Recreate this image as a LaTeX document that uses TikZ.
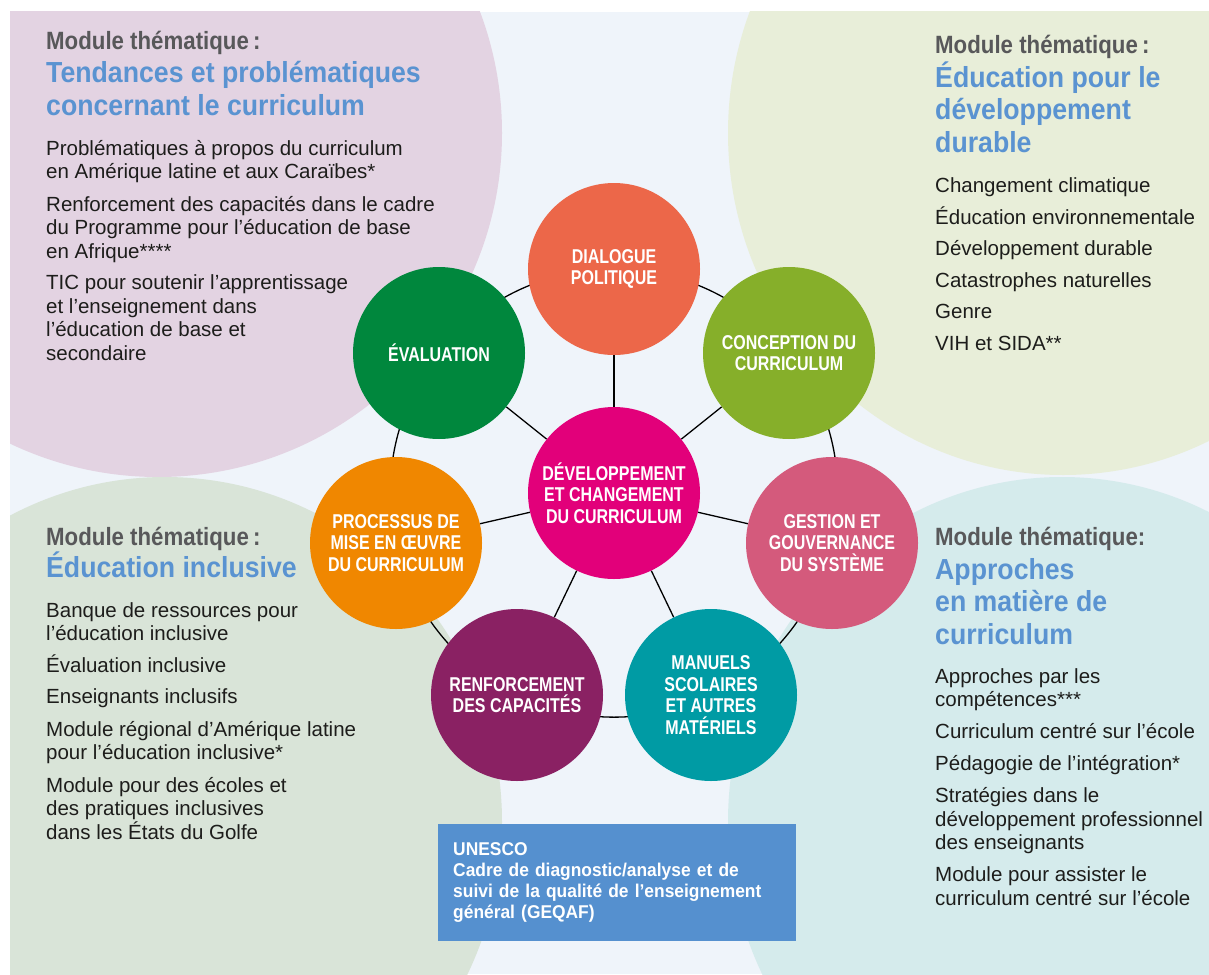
\documentclass[tikz,border=0pt]{standalone}
\usepackage{fontspec}
\setmainfont{Liberation Sans}
\newfontfamily\hdfont[FakeStretch=0.89]{Liberation Sans}
\newfontfamily\titlefont[FakeStretch=0.92]{Liberation Sans}
\newfontfamily\circfont[FakeStretch=0.8]{Liberation Sans}
\newfontfamily\boxfont[FakeStretch=0.94]{Liberation Sans}
\definecolor{bgblue}{HTML}{EFF4FA}
\definecolor{tlc}{HTML}{E3D3E2}
\definecolor{trc}{HTML}{E8EED9}
\definecolor{blc}{HTML}{D9E4D8}
\definecolor{brc}{HTML}{D5EBEC}
\definecolor{hdgrey}{HTML}{58585A}
\definecolor{ttlblue}{HTML}{5A93D1}
\definecolor{bodytext}{HTML}{1D1D1B}
\definecolor{cdlg}{HTML}{EC6749}
\definecolor{ccon}{HTML}{86AF2A}
\definecolor{cges}{HTML}{D45A7C}
\definecolor{cman}{HTML}{009BA4}
\definecolor{cren}{HTML}{8A2163}
\definecolor{cpro}{HTML}{F08700}
\definecolor{ceva}{HTML}{00873D}
\definecolor{cctr}{HTML}{E2007A}
\definecolor{cbox}{HTML}{5590CF}
\pgfdeclarelayer{bg}
\pgfdeclarelayer{lines}
\pgfsetlayers{bg,lines,main}
\begin{document}
\begin{tikzpicture}[x=1pt,y=-1pt,
  hdr/.style={font=\hdfont\bfseries\fontsize{25}{28}\selectfont, text=hdgrey, anchor=base west, inner sep=0pt},
  ttl/.style={font=\titlefont\bfseries\fontsize{29}{32.5}\selectfont, text=ttlblue, align=left, anchor=base west, inner sep=0pt},
  body/.style={font=\fontsize{20.5}{23.5}\selectfont, text=bodytext, align=left, anchor=base west, inner sep=0pt},
  sat/.style={circle, minimum size=172pt, inner sep=0pt, text=white, align=center,
    font=\circfont\bfseries\fontsize{20}{21.5}\selectfont},
  conn/.style={draw=black, line width=1.3pt},
  ring/.style={conn, bend left=25.7, looseness=0.9},
  ubox/.style={fill=cbox, text=white, align=left, text width=328pt, inner xsep=15pt,
    minimum height=117pt, font=\boxfont\bfseries\fontsize{18.5}{21}\selectfont, anchor=north west}
]
\useasboundingbox (0,0) rectangle (1209,974);
\begin{pgfonlayer}{bg}
  \fill[white] (0,0) rectangle (1209,974);
  \fill[bgblue] (10,12) rectangle (1209,974);
  \begin{scope}
    \clip (10,12) rectangle (1209,974);
    \fill[tlc] (158,133) ellipse[x radius=344pt, y radius=344pt];
    \fill[trc] (1063,133) ellipse[x radius=335pt, y radius=342pt];
    \fill[blc] (165,822) ellipse[x radius=337pt, y radius=345pt];
    \fill[brc] (1062,822) ellipse[x radius=334pt, y radius=345pt];
  \end{scope}
\end{pgfonlayer}

% circles
\node[sat, fill=cdlg] (dlg) at (614,269) {DIALOGUE\\POLITIQUE};
\node[sat, fill=ccon] (con) at (789,353) {CONCEPTION DU\\CURRICULUM};
\node[sat, fill=cges] (ges) at (832,543) {GESTION ET\\GOUVERNANCE\\DU SYSTÈME};
\node[sat, fill=cman] (man) at (711,695) {MANUELS\\SCOLAIRES\\ET AUTRES\\MATÉRIELS};
\node[sat, fill=cren] (ren) at (517,695) {RENFORCEMENT\\DES CAPACITÉS};
\node[sat, fill=cpro] (pro) at (396,543) {PROCESSUS DE\\MISE EN ŒUVRE\\DU CURRICULUM};
\node[sat, fill=ceva] (eva) at (439,353) {ÉVALUATION};
\node[sat, fill=cctr] (ctr) at (614,493) {DÉVELOPPEMENT\\ET CHANGEMENT\\DU CURRICULUM};

\begin{pgfonlayer}{lines}
  \foreach \n in {dlg,con,ges,man,ren,pro,eva} \draw[conn] (ctr) -- (\n);
  \draw[ring] (dlg.center) to (con.center);
  \draw[ring] (con.center) to (ges.center);
  \draw[ring] (ges.center) to (man.center);
  \draw[ring] (man.center) to (ren.center);
  \draw[ring] (ren.center) to (pro.center);
  \draw[ring] (pro.center) to (eva.center);
  \draw[ring] (eva.center) to (dlg.center);
\end{pgfonlayer}

% top-left module (multi-line nodes are anchored at their last baseline)
\node[hdr] (tlh) at (46,49) {Module thématique\,:};
\node[ttl] (tlt) at (46,115) {Tendances et problématiques\\concernant le curriculum};
\node[body] (tlb) at (46,360) {Problématiques à propos du curriculum\\
en Amérique latine et aux Caraïbes*\\[9pt]
Renforcement des capacités dans le cadre\\
du Programme pour l’éducation de base\\
en Afrique****\\[8pt]
TIC pour soutenir l’apprentissage\\
et l’enseignement dans\\
l’éducation de base et\\
secondaire};

% top-right module
\node[hdr] (trh) at (935,53) {Module thématique\,:};
\node[ttl] (trt) at (935,152) {Éducation pour le\\développement\\durable};
\node[body] (trb) at (935,350) {Changement climatique\\[8pt]
Éducation environnementale\\[8pt]
Développement durable\\[8pt]
Catastrophes naturelles\\[8pt]
Genre\\[8pt]
VIH et SIDA**};

% bottom-left module
\node[hdr] (blh) at (46,545) {Module thématique\,:};
\node[ttl] (blt) at (46,577) {Éducation inclusive};
\node[body] (blb) at (46,839) {Banque de ressources pour\\
l’éducation inclusive\\[8pt]
Évaluation inclusive\\[8pt]
Enseignants inclusifs\\[9pt]
Module régional d’Amérique latine\\
pour l’éducation inclusive*\\[9pt]
Module pour des écoles et\\
des pratiques inclusives\\
dans les États du Golfe};

% bottom-right module
\node[hdr] (brh) at (935,545) {Module thématique:};
\node[ttl] (brt) at (935,644) {Approches\\en matière de\\curriculum};
\node[body] (brb) at (935,905) {Approches par les\\
compétences***\\[8.5pt]
Curriculum centré sur l’école\\[8.5pt]
Pédagogie de l’intégration*\\[8.5pt]
Stratégies dans le\\
développement professionnel\\
des enseignants\\[8.5pt]
Module pour assister le\\
curriculum centré sur l’école};

% UNESCO box
\node[ubox] (unesco) at (438,824) {UNESCO\\Cadre de diagnostic/analyse et de\\suivi de la qualité de l’enseignement\\général (GEQAF)};
\end{tikzpicture}
\end{document}
